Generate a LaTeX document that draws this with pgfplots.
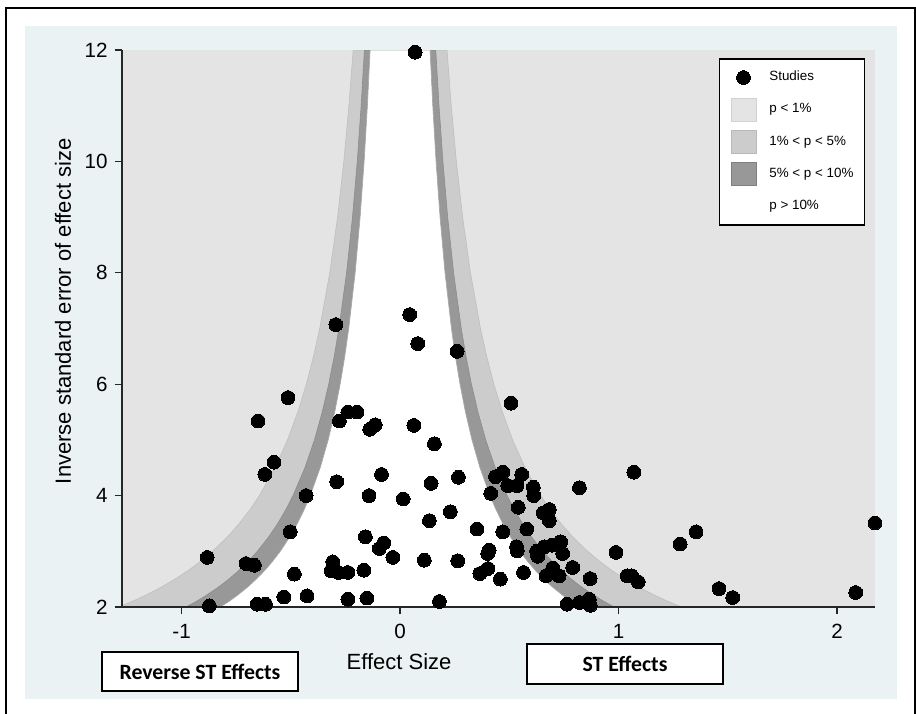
\documentclass[border=0pt]{standalone}
\usepackage{pgfplots}
\pgfplotsset{compat=1.18}
\usepackage{pgfplotstable}
\usepackage{fontspec}
\setmainfont{Liberation Sans}
\newfontfamily\calibri{Carlito}

\definecolor{bgblue}{RGB}{234,242,243}
\definecolor{pone}{RGB}{228,228,228}
\definecolor{pfive}{RGB}{204,204,204}
\definecolor{pten}{RGB}{152,152,152}

% funnel contours, x = -+z/y for z = 2.576 (a), 1.96 (b), 1.645 (c)
\pgfplotstableread{
y a b c
2 -1.2880 -0.9800 -0.8225
2.1 -1.2267 -0.9333 -0.7833
2.2 -1.1709 -0.8909 -0.7477
2.35 -1.0962 -0.8340 -0.7000
2.5 -1.0304 -0.7840 -0.6580
2.65 -0.9721 -0.7396 -0.6208
2.8 -0.9200 -0.7000 -0.5875
3 -0.8587 -0.6533 -0.5483
3.25 -0.7926 -0.6031 -0.5062
3.5 -0.7360 -0.5600 -0.4700
3.75 -0.6869 -0.5227 -0.4387
4 -0.6440 -0.4900 -0.4113
4.5 -0.5724 -0.4356 -0.3656
5 -0.5152 -0.3920 -0.3290
5.5 -0.4684 -0.3564 -0.2991
6 -0.4293 -0.3267 -0.2742
6.5 -0.3963 -0.3015 -0.2531
7 -0.3680 -0.2800 -0.2350
8 -0.3220 -0.2450 -0.2056
9 -0.2862 -0.2178 -0.1828
10 -0.2576 -0.1960 -0.1645
11 -0.2342 -0.1782 -0.1495
12 -0.2147 -0.1633 -0.1371
12 0.2147 0.1633 0.1371
11 0.2342 0.1782 0.1495
10 0.2576 0.1960 0.1645
9 0.2862 0.2178 0.1828
8 0.3220 0.2450 0.2056
7 0.3680 0.2800 0.2350
6.5 0.3963 0.3015 0.2531
6 0.4293 0.3267 0.2742
5.5 0.4684 0.3564 0.2991
5 0.5152 0.3920 0.3290
4.5 0.5724 0.4356 0.3656
4 0.6440 0.4900 0.4113
3.75 0.6869 0.5227 0.4387
3.5 0.7360 0.5600 0.4700
3.25 0.7926 0.6031 0.5062
3 0.8587 0.6533 0.5483
2.8 0.9200 0.7000 0.5875
2.65 0.9721 0.7396 0.6208
2.5 1.0304 0.7840 0.6580
2.35 1.0962 0.8340 0.7000
2.2 1.1709 0.8909 0.7477
2.1 1.2267 0.9333 0.7833
2 1.2880 0.9800 0.8225
}\funnel

\pgfplotsset{
  swatch/.style={legend image code/.code={%
    \draw[##1] (0pt,-5.75pt) rectangle (12.5pt,5.75pt);}},
  dotlegend/.style={legend image code/.code={%
    \draw[##1] plot coordinates {(6.25pt,0pt)};}},
}

\begin{document}
\begin{tikzpicture}
\useasboundingbox (0pt,0pt) rectangle (458pt,-356.5pt);
\fill[bgblue] (12.5pt,-13pt) rectangle (448.5pt,-349.5pt);
\draw[black, line width=0.6pt] (3pt,-360pt) -- (3pt,-4pt) -- (457.5pt,-4pt) -- (457.5pt,-360pt);

\begin{axis}[
  at={(61pt,-303.5pt)}, anchor=south west,
  scale only axis, width=376.5pt, height=278.5pt,
  xmin=-1.273, xmax=2.174, ymin=2, ymax=12,
  axis x line=bottom, axis y line=left,
  axis line style={-, black!85, line width=0.7pt},
  xtick={-1,0,1,2}, xticklabels={-1,0,1,2},
  ytick={2,4,6,8,10,12}, yticklabels={2,4,6,8,10,12},
  tick align=outside, major tick length=3.7pt,
  tick style={black!85, line width=0.6pt},
  ticklabel style={font=\fontsize{10.3}{12}\selectfont},
  xticklabel style={yshift=-1.5pt},
  xlabel={Effect Size}, ylabel={Inverse standard error of effect size},
  label style={font=\fontsize{11}{13}\selectfont},
  xlabel style={at={(axis description cs:0.368,-0.0987)}, anchor=center},
  ylabel style={at={(axis description cs:-0.0784,0.531)}, anchor=center},
  axis background/.style={fill=pone},
  axis on top,
  legend style={at={(0.987,0.985)}, anchor=north east, draw=black,
    line width=0.7pt, fill=white, font=\fontsize{6.7}{8}\selectfont,
    inner xsep=5.5pt, inner ysep=1.2pt, row sep=0pt, column sep=6.5pt,
    nodes={inner sep=0pt, minimum height=16.1pt}},
  legend cell align=left,
]
\addplot[fill=pfive, draw=black!25, line width=0.3pt, forget plot] table[x=a, y=y] {\funnel};
\addplot[fill=pten, draw=black!45, line width=0.3pt, forget plot] table[x=b, y=y] {\funnel};
\addplot[fill=white, draw=black!35, line width=0.3pt, forget plot] table[x=c, y=y] {\funnel};

\addplot[only marks, mark=*, mark size=3.45pt, black,
  mark options={fill=black, draw=black, line width=0pt}, dotlegend]
coordinates {
(0.069,11.96) (0.044,7.25) (-0.294,7.07) (0.081,6.73) (0.261,6.59)
(0.508,5.66) (-0.513,5.76) (-0.65,5.34) (-0.278,5.34) (-0.239,5.50)
(-0.197,5.50) (-0.139,5.19) (-0.114,5.27) (0.063,5.26) (0.157,4.93)
(-0.577,4.60) (-0.619,4.38) (-0.29,4.25) (-0.085,4.38) (0.142,4.22)
(0.267,4.33) (-0.43,4.00) (-0.142,4.00) (0.014,3.94) (0.134,3.55)
(0.23,3.71) (-0.503,3.35) (-0.159,3.26) (-0.075,3.15) (-0.095,3.05)
(-0.033,2.89) (0.111,2.84) (-0.883,2.89) (-0.705,2.78) (-0.667,2.75)
(-0.308,2.81) (-0.316,2.65) (-0.282,2.62) (-0.239,2.62) (-0.166,2.66)
(-0.484,2.59) (-0.532,2.18) (-0.426,2.20) (-0.239,2.14) (-0.152,2.16)
(0.18,2.10) (-0.873,2.02) (-0.654,2.05) (-0.616,2.05) (0.352,3.40)
(0.47,3.35) (0.264,2.83) (0.408,3.02) (0.401,2.96) (0.365,2.60)
(0.402,2.69) (0.459,2.50) (0.565,2.62) (0.437,4.34) (0.47,4.42)
(0.493,4.18) (0.535,4.18) (0.557,4.38) (0.415,4.04) (0.61,4.15)
(0.612,4.00) (0.541,3.79) (0.655,3.69) (0.683,3.75) (0.683,3.55)
(0.58,3.40) (0.533,3.08) (0.536,3.01) (0.625,3.00) (0.63,2.91)
(0.659,3.08) (0.694,3.11) (0.735,3.17) (0.744,2.96) (0.668,2.56)
(0.699,2.70) (0.728,2.56) (0.79,2.71) (0.87,2.51) (0.764,2.05)
(0.821,2.08) (0.866,2.14) (0.871,2.03) (0.821,4.14) (1.07,4.42)
(0.988,2.98) (1.039,2.56) (1.06,2.56) (1.09,2.45) (1.282,3.13)
(1.355,3.35) (1.46,2.33) (1.523,2.17) (2.086,2.26) (2.174,3.51)
};
\addlegendentry{Studies}
\addlegendimage{swatch, fill=pone, draw=black!18, line width=0.3pt}
\addlegendentry{p < 1\%}
\addlegendimage{swatch, fill=pfive, draw=black!28, line width=0.3pt}
\addlegendentry{1\% < p < 5\%}
\addlegendimage{swatch, fill=pten, draw=black!50, line width=0.3pt}
\addlegendentry{5\% < p < 10\%}
\addlegendimage{empty legend}
\addlegendentry{p > 10\%}
\end{axis}

\node[draw=black, line width=0.6pt, fill=white, minimum width=98pt, minimum height=19.5pt,
  inner sep=0pt, font=\calibri\bfseries\fontsize{10.9}{12}\selectfont] at (100pt,-335.75pt) {Reverse ST Effects};
\node[draw=black, line width=0.6pt, fill=white, minimum width=98pt, minimum height=20pt,
  inner sep=0pt, font=\calibri\bfseries\fontsize{10.9}{12}\selectfont] at (312.5pt,-332pt) {ST Effects};
\end{tikzpicture}
\end{document}
